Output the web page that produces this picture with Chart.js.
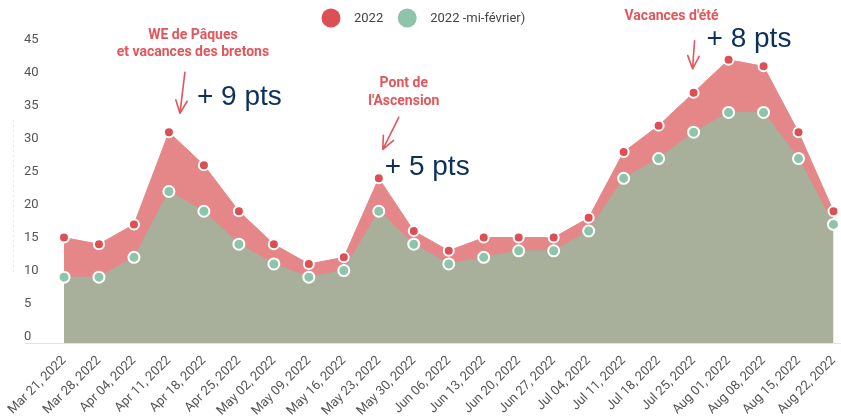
<!DOCTYPE html>
<html>
<head>
<meta charset="utf-8">
<script src="https://cdn.jsdelivr.net/npm/chart.js@4/dist/chart.umd.min.js"></script>
<style>
html,body{margin:0;padding:0;background:#fff;}
#wrap{width:841px;height:417px;position:relative;}
</style>
</head>
<body>
<div id="wrap"><canvas id="c"></canvas></div>
<script>
const categories = ['Mar 21, 2022','Mar 28, 2022','Apr 04, 2022','Apr 11, 2022','Apr 18, 2022','Apr 25, 2022','May 02, 2022','May 09, 2022','May 16, 2022','May 23, 2022','May 30, 2022','Jun 06, 2022','Jun 13, 2022','Jun 20, 2022','Jun 27, 2022','Jul 04, 2022','Jul 11, 2022','Jul 18, 2022','Jul 25, 2022','Aug 01, 2022','Aug 08, 2022','Aug 15, 2022','Aug 22, 2022'];
const series2022 = [15,14,17,31,26,19,14,11,12,24,16,13,15,15,15,18,28,32,37,42,41,31,19];
const seriesMiFevrier = [9,9,12,22,19,14,11,9,10,19,14,11,12,13,13,16,24,27,31,34,34,27,17];
const seriesNames = ['2022', '2022 -mi-février)'];
const yTickValues = [0,5,10,15,20,25,30,35,40,45];

// annotations: anchored on a data point index (red series), offsets in px
const annotationTitles = [['WE de Pâques','et vacances des bretons'], ['Pont de',"l'Ascension"], ["Vacances d'été"]];
const annotationDeltas = ['+ 9 pts', '+ 5 pts', '+ 8 pts'];
const annotationAnchors = [3, 9, 19];

const RED_FILL = '#E58789', RED_PT = '#DC4F55';
const GREEN_FILL = '#A8AF9B', GREEN_PT = '#8EC4A8';
const ANNOT_RED = '#E2565B', NAVY = '#0D2F5C';

const annotationLayout = [
  {title:{dx:24, dy:[-97,-80]}, arrow:{x1:16,y1:-60,x2:11,y2:-19}, delta:{dx:28, dy:-35}},
  {title:{dx:25, dy:[-95,-77]}, arrow:{x1:20,y1:-61,x2:4,y2:-29}, delta:{dx:6, dy:-11}},
  {title:{dx:-57, dy:[-43]}, arrow:{x1:-34,y1:-19,x2:-36,y2:9}, delta:{dx:-22, dy:-20}}
];

const decorPlugin = {
  id: 'decor',
  beforeDatasetsDraw(chart) {
    const ctx = chart.ctx, a = chart.chartArea;
    ctx.save();
    ctx.strokeStyle = '#E2E2E2';
    ctx.lineWidth = 1;
    ctx.beginPath();
    ctx.moveTo(25, Math.round(a.bottom) + 0.5);
    ctx.lineTo(841, Math.round(a.bottom) + 0.5);
    ctx.stroke();
    ctx.strokeStyle = '#E8E8E8';
    ctx.setLineDash([2,3]);
    ctx.beginPath();
    ctx.moveTo(13.5, 120);
    ctx.lineTo(13.5, 275);
    ctx.stroke();
    ctx.restore();
  },
  afterDraw(chart) {
    const ctx = chart.ctx;
    const xs = chart.scales.x, ys = chart.scales.y;
    ctx.save();
    // legend
    let lx = 321;
    const ly = 18;
    ctx.font = '13px Roboto';
    ctx.textBaseline = 'middle';
    ctx.textAlign = 'left';
    chart.data.datasets.forEach(ds => {
      ctx.fillStyle = ds.pointBackgroundColor;
      ctx.beginPath();
      ctx.arc(lx + 10, ly, 9.5, 0, Math.PI * 2);
      ctx.fill();
      ctx.fillStyle = '#444';
      ctx.fillText(ds.label, lx + 33, ly + 1);
      lx += 33 + ctx.measureText(ds.label).width + 14;
    });
    // annotations
    annotationAnchors.forEach((idx, i) => {
      const px = xs.getPixelForValue(idx);
      const py = ys.getPixelForValue(series2022[idx]);
      const L = annotationLayout[i];
      ctx.fillStyle = ANNOT_RED;
      ctx.font = 'bold 14px Roboto';
      ctx.textAlign = 'center';
      ctx.textBaseline = 'middle';
      annotationTitles[i].forEach((t, k) => ctx.fillText(t, px + L.title.dx, py + L.title.dy[k]));
      // arrow
      const x1 = px + L.arrow.x1, y1 = py + L.arrow.y1, x2 = px + L.arrow.x2, y2 = py + L.arrow.y2;
      ctx.strokeStyle = ANNOT_RED;
      ctx.lineWidth = 1.6;
      ctx.lineCap = 'round';
      ctx.beginPath();
      ctx.moveTo(x1, y1); ctx.lineTo(x2, y2);
      const ang = Math.atan2(y2 - y1, x2 - x1);
      const hl = 14, ha = 0.42;
      ctx.moveTo(x2, y2); ctx.lineTo(x2 - hl * Math.cos(ang - ha), y2 - hl * Math.sin(ang - ha));
      ctx.moveTo(x2, y2); ctx.lineTo(x2 - hl * Math.cos(ang + ha), y2 - hl * Math.sin(ang + ha));
      ctx.stroke();
      // delta
      ctx.fillStyle = NAVY;
      ctx.font = '28px "Liberation Sans", Arial, sans-serif';
      ctx.textAlign = 'left';
      ctx.fillText(annotationDeltas[i], px + L.delta.dx, py + L.delta.dy);
    });
    ctx.restore();
  }
};

new Chart(document.getElementById('c'), {
  type: 'line',
  data: {
    labels: categories,
    datasets: [
      {
        label: seriesNames[0],
        data: series2022,
        order: 2,
        fill: 'start',
        backgroundColor: RED_FILL,
        borderColor: RED_FILL,
        borderWidth: 1,
        tension: 0,
        pointRadius: 5,
        pointBackgroundColor: RED_PT,
        pointBorderColor: '#FFFFFF',
        pointBorderWidth: 2
      },
      {
        label: seriesNames[1],
        data: seriesMiFevrier,
        order: 1,
        fill: 'start',
        backgroundColor: GREEN_FILL,
        borderColor: GREEN_FILL,
        borderWidth: 1,
        tension: 0,
        pointRadius: 5.5,
        pointBackgroundColor: GREEN_PT,
        pointBorderColor: '#FFFFFF',
        pointBorderWidth: 2
      }
    ]
  },
  options: {
    responsive: true,
    maintainAspectRatio: false,
    animation: false,
    devicePixelRatio: 1,
    layout: { padding: { top: 40, left: 24, right: 7, bottom: 0 } },
    plugins: { legend: { display: false }, tooltip: { enabled: false } },
    scales: {
      x: {
        type: 'category',
        offset: false,
        grid: { display: false },
        border: { display: false },
        ticks: {
          autoSkip: false,
          minRotation: 45,
          maxRotation: 45,
          padding: 2,
          color: '#555',
          font: { family: 'Roboto', size: 13 }
        },
        afterFit(s) { s.height = 74; s.paddingRight = 0; s.paddingLeft = 0; }
      },
      y: {
        min: -1,
        max: 45,
        grid: { display: false },
        border: { display: false },
        afterBuildTicks(s) { s.ticks = yTickValues.map(v => ({ value: v })); },
        ticks: {
          crossAlign: 'far',
          padding: 0,
          color: '#555',
          font: { family: 'Roboto', size: 13 }
        },
        afterFit(s) { s.width = 40; }
      }
    }
  },
  plugins: [decorPlugin]
});
</script>
</body>
</html>
